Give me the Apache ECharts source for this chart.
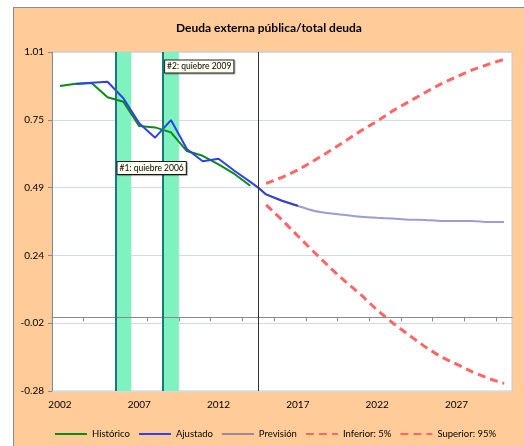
<!DOCTYPE html>
<html>
<head>
<meta charset="utf-8">
<script src="https://cdn.jsdelivr.net/npm/echarts/dist/echarts.min.js"></script>
<style>
html, body { margin: 0; padding: 0; background: #fff; }
#chart {
    position: absolute; left: 13px; top: 7px;
    width: 510px; height: 438px;
    background: #ffcc99;
    border-left: 1px solid #8c8c8c; border-top: 1px solid #8c8c8c;
}
</style>
</head>
<body>
<div id="chart"></div>
<script>
// datos
var histYears = [2002, 2003, 2004, 2005, 2006, 2007, 2008, 2009, 2010, 2011, 2012, 2013, 2014];
var histVals  = [0.881, 0.889, 0.892, 0.838, 0.821, 0.728, 0.723, 0.704, 0.633, 0.615, 0.582, 0.546, 0.501];

var ajusYears = [2003, 2004, 2005, 2006, 2007, 2008, 2009, 2010, 2011, 2012, 2013, 2014, 2014.5, 2015, 2016, 2017];
var ajusVals  = [0.888, 0.893, 0.897, 0.834, 0.739, 0.684, 0.751, 0.641, 0.594, 0.604, 0.558, 0.516, 0.494, 0.468, 0.444, 0.425];

var prevYears = [2014.5, 2015, 2016, 2017, 2018, 2019, 2020, 2021, 2022, 2023, 2024, 2025, 2026, 2027, 2028, 2029, 2030];
var prevVals  = [0.494, 0.468, 0.444, 0.424, 0.406, 0.396, 0.390, 0.383, 0.379, 0.376, 0.372, 0.371, 0.367, 0.367, 0.367, 0.363, 0.363];

var bandYears = [2015, 2016, 2017, 2018, 2019, 2020, 2021, 2022, 2023, 2024, 2025, 2026, 2027, 2028, 2029, 2030];
var infVals = [0.428, 0.371, 0.310, 0.250, 0.191, 0.136, 0.085, 0.028, -0.022, -0.067, -0.111, -0.149, -0.178, -0.207, -0.232, -0.251];
var supVals = [0.510, 0.533, 0.561, 0.596, 0.633, 0.672, 0.711, 0.747, 0.787, 0.821, 0.855, 0.888, 0.916, 0.942, 0.963, 0.982];

var quiebres = [2006, 2009];
var quiebreLabelY = [0.569, 0.955];
var inicioPrevision = 2014.5;

var yTicks = [-0.28, -0.022, 0.236, 0.494, 0.752, 1.01];
var xLabels = [2002, 2007, 2012, 2017, 2022, 2027];
var xTicks = [2003.5, 2005.5, 2007.5, 2009.5, 2011.5, 2013.5, 2015.5, 2017.5, 2019.5, 2021.5, 2023.5, 2025.5, 2027.5, 2029.5];

function pares(xs, ys) {
    var out = [];
    for (var i = 0; i < xs.length; i++) out.push([xs[i], ys[i]]);
    return out;
}

var fuente = 'Lato';
var areas = [], lineasV = [], notas = [];
for (var i = 0; i < quiebres.length; i++) {
    areas.push([{xAxis: quiebres[i] - 0.5}, {xAxis: quiebres[i] + 0.5}]);
    lineasV.push({xAxis: quiebres[i] - 0.5, lineStyle: {color: '#167a78', width: 2, type: 'solid'}});
    notas.push({name: '#' + (i + 1) + ': quiebre ' + quiebres[i], coord: [quiebres[i] - 0.4, quiebreLabelY[i]]});
}
lineasV.push({xAxis: inicioPrevision, lineStyle: {color: '#333', width: 1, type: 'solid'}});

var option = {
    animation: false,
    textStyle: {fontFamily: fuente},
    title: {
        text: 'Deuda externa pública/total deuda',
        left: 'center',
        top: 9,
        textStyle: {fontSize: 12, fontWeight: 'bold', color: '#000', fontFamily: fuente}
    },
    grid: {
        left: 38, top: 44, right: 12, bottom: 55,
        show: true, backgroundColor: '#fff', borderColor: '#c8c8c8', borderWidth: 1
    },
    legend: {
        left: 35, top: 416,
        itemWidth: 32, itemHeight: 12, itemGap: 8,
        itemStyle: {opacity: 0},
        textStyle: {fontSize: 9.5, color: '#000', fontFamily: fuente},
        data: ['Histórico', 'Ajustado', 'Previsión', 'Inferior: 5%', 'Superior: 95%']
    },
    xAxis: [{
        type: 'value', min: 2001.5, max: 2030.5, z: 2,
        axisLine: {show: true, onZero: true, lineStyle: {color: '#8a8a8a', width: 1}},
        axisTick: {show: true, customValues: xTicks, length: 4, lineStyle: {color: '#8a8a8a'}},
        axisLabel: {show: false},
        splitLine: {show: false}
    }, {
        type: 'value', min: 2001.5, max: 2030.5, position: 'bottom',
        axisLine: {show: false, onZero: false},
        axisTick: {show: false},
        axisLabel: {customValues: xLabels, margin: 9, fontSize: 10, color: '#000', formatter: function (v) { return String(v); }},
        splitLine: {show: false}
    }],
    yAxis: {
        type: 'value', min: -0.28, max: 1.01, z: 0,
        axisLine: {show: true, lineStyle: {color: '#8a8a8a'}},
        axisTick: {show: true, customValues: yTicks, length: 4, lineStyle: {color: '#8a8a8a'}},
        axisLabel: {customValues: yTicks, margin: 8, fontSize: 10, color: '#000', formatter: function (v) { return v.toFixed(2); }},
        splitLine: {show: true, lineStyle: {color: '#d2dae2', width: 1}}
    },
    series: [{
        name: 'bandas', type: 'line', data: [], z: 1, silent: true,
        markArea: {silent: true, itemStyle: {color: '#80f2c0'}, data: areas}
    }, {
        name: 'lineas', type: 'line', data: [], z: 2, silent: true,
        markLine: {silent: true, symbol: 'none', label: {show: false}, data: lineasV}
    }, {
        name: 'Histórico', type: 'line', z: 3, symbol: 'none',
        lineStyle: {color: '#0a8a16', width: 2}, itemStyle: {color: '#0a8a16'},
        data: pares(histYears, histVals)
    }, {
        name: 'Ajustado', type: 'line', z: 3, symbol: 'none',
        lineStyle: {color: '#3040ec', width: 2}, itemStyle: {color: '#3040ec'},
        data: pares(ajusYears, ajusVals)
    }, {
        name: 'Previsión', type: 'line', z: 3, symbol: 'none', smooth: 0.2,
        lineStyle: {color: 'rgba(60,60,165,0.5)', width: 2}, itemStyle: {color: 'rgba(60,60,165,0.5)'},
        data: pares(prevYears, prevVals)
    }, {
        name: 'Inferior: 5%', type: 'line', z: 3, symbol: 'none',
        lineStyle: {color: '#ff6666', width: 3, type: [8, 5]}, itemStyle: {color: '#ff6666'},
        data: pares(bandYears, infVals)
    }, {
        name: 'Superior: 95%', type: 'line', z: 3, symbol: 'none',
        lineStyle: {color: '#ff6666', width: 3, type: [8, 5]}, itemStyle: {color: '#ff6666'},
        data: pares(bandYears, supVals)
    }, {
        name: 'notas', type: 'line', data: [], z: 4, silent: true,
        markPoint: {
            silent: true, symbol: 'rect', symbolSize: 1,
            itemStyle: {color: 'rgba(0,0,0,0)'},
            label: {
                show: true, position: 'right', distance: 0, formatter: '{b}',
                fontSize: 8.5, color: '#000', fontFamily: fuente,
                backgroundColor: '#fffff2', borderColor: '#222', borderWidth: 1,
                padding: [2, 2, 1, 2],
                shadowColor: 'rgba(0,0,0,0.35)', shadowOffsetX: 1, shadowOffsetY: 1, shadowBlur: 1
            },
            data: notas
        }
    }]
};
var echart = echarts.init(document.getElementById('chart'));
echart.setOption(option, true);
</script>
</body>
</html>
